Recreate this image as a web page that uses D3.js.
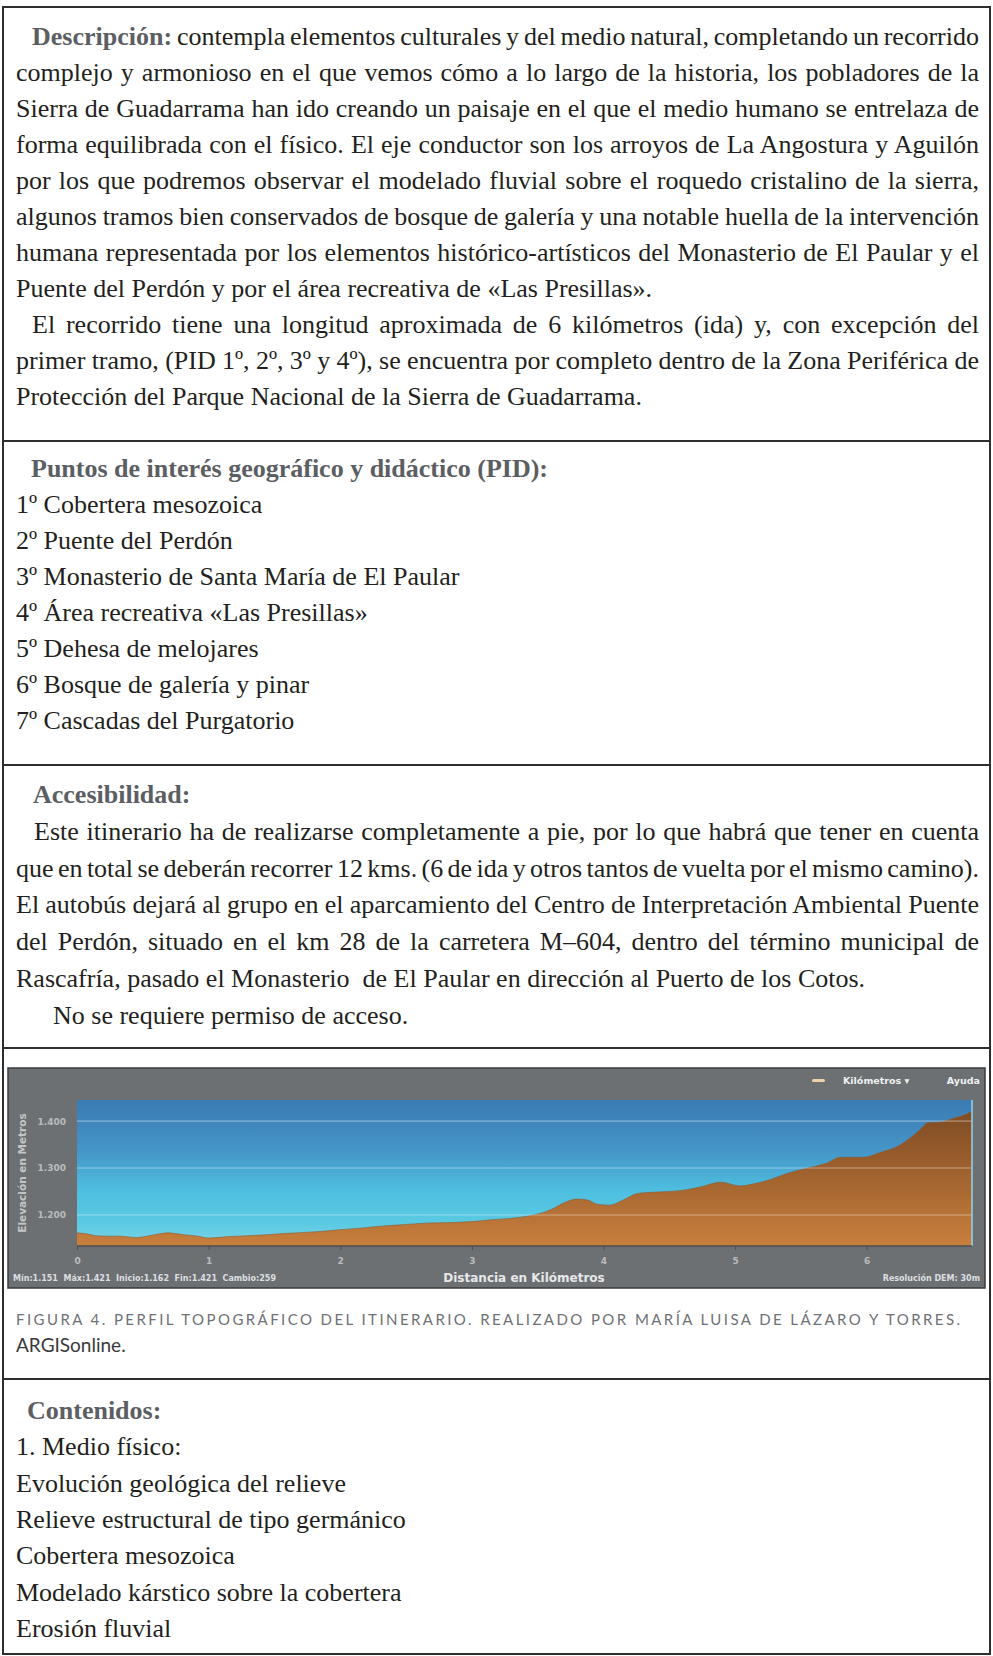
<!DOCTYPE html>
<html><head><meta charset="utf-8">
<script src="https://cdn.jsdelivr.net/npm/d3@7"></script>
<style>body{margin:0;background:#fff}svg{display:block}</style>
</head><body>
<script>
// ---------- DATA ----------
const distKm = [0, 0.07, 0.14, 0.22, 0.33, 0.45, 0.57, 0.69, 0.81, 0.92, 1.0, 1.15, 1.3, 1.44, 1.6, 1.73, 1.85, 1.97, 2.15, 2.3, 2.5, 2.68, 2.85, 3.0, 3.15, 3.3, 3.45, 3.54, 3.62, 3.7, 3.8, 3.88, 3.95, 4.05, 4.15, 4.26, 4.41, 4.61, 4.74, 4.89, 5.04, 5.15, 5.25, 5.4, 5.55, 5.7, 5.8, 5.98, 6.11, 6.24, 6.33, 6.41, 6.46, 6.56, 6.66, 6.74, 6.8];
const elevM  = [1162, 1160, 1156, 1155, 1155, 1152, 1157, 1162, 1158, 1155, 1151, 1154, 1156, 1158, 1161, 1163, 1165, 1168, 1172, 1176, 1180, 1183, 1184, 1186, 1190, 1193, 1199, 1205, 1214, 1226, 1234, 1232, 1223, 1221, 1232, 1246, 1249, 1253, 1260, 1270, 1262, 1267, 1274, 1289, 1300, 1311, 1323, 1323, 1334, 1347, 1364, 1383, 1396, 1398, 1406, 1413, 1421];
const xTickValues = [0, 1, 2, 3, 4, 5, 6];
const yTickValues = [1200, 1300, 1400];

const sec1Lines = [
  [["Descripción: ", true], ["contempla elementos culturales y del medio natural, completando un recorrido", false]],
  [["complejo y armonioso en el que vemos cómo a lo largo de la historia, los pobladores de la", false]],
  [["Sierra de Guadarrama han ido creando un paisaje en el que el medio humano se entrelaza de", false]],
  [["forma equilibrada con el físico. El eje conductor son los arroyos de La Angostura y Aguilón", false]],
  [["por los que podremos observar el modelado fluvial sobre el roquedo cristalino de la sierra,", false]],
  [["algunos tramos bien conservados de bosque de galería y una notable huella de la intervención", false]],
  [["humana representada por los elementos histórico-artísticos del Monasterio de El Paular y el", false]],
  [["Puente del Perdón y por el área recreativa de «Las Presillas».", false]],
  [["El recorrido tiene una longitud aproximada de 6 kilómetros (ida) y, con excepción del", false]],
  [["primer tramo, (PID 1º, 2º, 3º y 4º), se encuentra por completo dentro de la Zona Periférica de", false]],
  [["Protección del Parque Nacional de la Sierra de Guadarrama.", false]]
];
const sec1Indent = [32,16,16,16,16,16,16,16,32,16,16];
const sec1Justify = [1,1,1,1,1,1,1,0,1,1,0];

const sec2Heading = "Puntos de interés geográfico y didáctico (PID):";
const sec2Items = ["1º Cobertera mesozoica","2º Puente del Perdón","3º Monasterio de Santa María de El Paular","4º Área recreativa «Las Presillas»","5º Dehesa de melojares","6º Bosque de galería y pinar","7º Cascadas del Purgatorio"];

const sec3Heading = "Accesibilidad:";
const sec3Lines = [
  "Este itinerario ha de realizarse completamente a pie, por lo que habrá que tener en cuenta",
  "que en total se deberán recorrer 12 kms. (6 de ida y otros tantos de vuelta por el mismo camino).",
  "El autobús dejará al grupo en el aparcamiento del Centro de Interpretación Ambiental Puente",
  "del Perdón, situado en el km 28 de la carretera M–604, dentro del término municipal de",
  "Rascafría, pasado el Monasterio  de El Paular en dirección al Puerto de los Cotos.",
  "No se requiere permiso de acceso."
];
const sec3Indent = [34,16,16,16,16,53];
const sec3Justify = [1,1,1,1,0,0];

const captionLine1 = "FIGURA 4. PERFIL TOPOGRÁFICO DEL ITINERARIO. REALIZADO POR MARÍA LUISA DE LÁZARO Y TORRES.";
const captionLine2 = "ARGISonline.";

const sec5Heading = "Contenidos:";
const sec5Items = ["1. Medio físico:","Evolución geológica del relieve","Relieve estructural de tipo germánico","Cobertera mesozoica","Modelado kárstico sobre la cobertera","Erosión fluvial"];

// ---------- PAGE ----------
const W = 993, H = 1656;
const svg = d3.select("body").append("svg").attr("width", W).attr("height", H);
const SERIF = "'Liberation Serif', 'DejaVu Serif', serif";
const FS = 26, L = 36, RIGHT = 979;
const BODY = "#231f20", HEAD = "#5b5e62";

function textLine(yb, xIndent, parts, justify, color) {
  const t = svg.append("text").attr("x", xIndent).attr("y", yb)
    .attr("font-family", SERIF).attr("font-size", FS).attr("fill", color || BODY)
    .style("white-space", "pre");
  parts.forEach(([s, b]) => {
    t.append("tspan").text(s).attr("font-weight", b ? "bold" : null).attr("fill", b ? HEAD : null);
  });
  if (justify) {
    const nat = t.node().getComputedTextLength();
    const full = parts.map(p => p[0]).join("");
    const spaces = (full.trim().match(/ /g) || []).length;
    const ws = (RIGHT - xIndent - nat) / spaces;
    t.attr("word-spacing", ws);
  }
  return t;
}

// frame and dividers
const frame = {x0: 3, x1: 990, y0: 7, y1: 1654};
svg.append("rect").attr("x", frame.x0).attr("y", frame.y0).attr("width", frame.x1 - frame.x0)
  .attr("height", frame.y1 - frame.y0).attr("fill", "none").attr("stroke", "#2e2e2e").attr("stroke-width", 2);
[441, 765, 1048, 1379].forEach(yy => svg.append("line").attr("x1", frame.x0).attr("x2", frame.x1)
  .attr("y1", yy).attr("y2", yy).attr("stroke", "#2e2e2e").attr("stroke-width", 2));

// section 1
sec1Lines.forEach((parts, i) => textLine(45 + i * L, sec1Indent[i], parts, sec1Justify[i]));
// section 2
textLine(477, 31, [[sec2Heading, true]], 0);
sec2Items.forEach((s, i) => textLine(477 + (i + 1) * L, 16, [[s, false]], 0));
// section 3
textLine(803, 33, [[sec3Heading, true]], 0);
sec3Lines.forEach((s, i) => textLine(803 + (i + 1) * 36.8, sec3Indent[i], [[s, false]], sec3Justify[i]));
// caption
svg.append("text").attr("x", 16).attr("y", 1325).text(captionLine1)
  .attr("font-family", "Lato, 'Open Sans', sans-serif").attr("font-size", 15).attr("fill", "#6e7176")
  .attr("textLength", 944).attr("lengthAdjust", "spacing");
svg.append("text").attr("x", 16).attr("y", 1352).text(captionLine2)
  .attr("font-family", "Lato, 'Open Sans', sans-serif").attr("font-size", 19).attr("fill", "#3a3a3a");
// section 5
textLine(1419, 27, [[sec5Heading, true]], 0);
sec5Items.forEach((s, i) => textLine(1419 + (i + 1) * 36.3, 16, [[s, false]], 0));

// ---------- CHART ----------
const box = {x0: 8, x1: 985, y0: 1068, y1: 1288};
const plot = {x0: 77, x1: 972, y0: 1100, y1: 1246};
const g = svg.append("g");
g.append("rect").attr("x", box.x0).attr("y", box.y0).attr("width", box.x1 - box.x0).attr("height", box.y1 - box.y0)
  .attr("fill", "#6d7073").attr("stroke", "#3a3b3c").attr("stroke-width", 1.5);

const x = d3.scaleLinear().domain([0, 6.8]).range([plot.x0, plot.x1]);
const y = d3.scaleLinear().domain([1134, 1445]).range([plot.y1, plot.y0]);

const defs = svg.append("defs");
const sky = defs.append("linearGradient").attr("id", "sky").attr("gradientUnits", "userSpaceOnUse")
  .attr("x1", 0).attr("x2", 0).attr("y1", plot.y0).attr("y2", plot.y1);
[[0, "#3a7ab3"], [0.35, "#4596c8"], [0.62, "#4ebfe0"], [0.85, "#5bcae3"], [1, "#7fd4e7"]]
  .forEach(([o, c]) => sky.append("stop").attr("offset", o).attr("stop-color", c));
const ground = defs.append("linearGradient").attr("id", "ground").attr("gradientUnits", "userSpaceOnUse")
  .attr("x1", 0).attr("x2", 0).attr("y1", plot.y0).attr("y2", plot.y1);
[[0, "#7a4822"], [0.45, "#9c5f2d"], [1, "#c97f3d"]]
  .forEach(([o, c]) => ground.append("stop").attr("offset", o).attr("stop-color", c));

g.append("rect").attr("x", plot.x0).attr("y", plot.y0).attr("width", plot.x1 - plot.x0)
  .attr("height", plot.y1 - plot.y0).attr("fill", "url(#sky)");

const pts = distKm.map((k, i) => ({k, e: elevM[i]}));
const area = d3.area().x(d => x(d.k)).y0(y(y.domain()[0])).y1(d => y(d.e)).curve(d3.curveMonotoneX);
g.append("path").datum(pts).attr("d", area).attr("fill", "url(#ground)");
g.append("path").datum(pts).attr("d", d3.line().x(d => x(d.k)).y(d => y(d.e)).curve(d3.curveMonotoneX))
  .attr("fill", "none").attr("stroke", "#8d5a2e").attr("stroke-width", 1).attr("opacity", 0.6);

// gridlines
g.selectAll(".grid").data(yTickValues).join("line")
  .attr("x1", plot.x0).attr("x2", plot.x1).attr("y1", d => y(d)).attr("y2", d => y(d))
  .attr("stroke", "#ffffff").attr("stroke-opacity", 0.28).attr("stroke-width", 1.6);
// right edge highlight
g.append("line").attr("x1", plot.x1).attr("x2", plot.x1).attr("y1", plot.y0).attr("y2", plot.y1)
  .attr("stroke", "#8fd6ec").attr("stroke-width", 1.5);

const esLocale = d3.formatLocale({decimal: ",", thousands: ".", grouping: [3], currency: ["", " €"]});
const fmt = esLocale.format(",d");
const CF = "'DejaVu Sans', Verdana, sans-serif";

// y axis
const yAxis = g.append("g").attr("transform", `translate(${plot.x0 - 8},0)`)
  .call(d3.axisLeft(y).tickValues(yTickValues).tickFormat(fmt).tickSize(0));
yAxis.select(".domain").remove();
yAxis.selectAll("text").attr("font-family", CF).attr("font-size", 9).attr("font-weight", "bold").attr("fill", "#b9bcbf");

// x axis
const xAxis = g.append("g").attr("transform", `translate(0,${plot.y1})`)
  .call(d3.axisBottom(x).tickValues(xTickValues).tickFormat(d3.format("d")).tickSize(4).tickPadding(8));
xAxis.select(".domain").attr("stroke", "#4b4d4f").attr("stroke-width", 1.5).attr("d", `M${plot.x0},0H${plot.x1}`);
xAxis.selectAll(".tick line").attr("stroke", "#4b4d4f");
xAxis.selectAll("text").attr("font-family", CF).attr("font-size", 9).attr("font-weight", "bold").attr("fill", "#b9bcbf");

// axis titles
g.append("text").attr("transform", `translate(26,${(plot.y0 + plot.y1) / 2}) rotate(-90)`)
  .attr("text-anchor", "middle").attr("font-family", CF).attr("font-size", 10.5).attr("font-weight", "bold")
  .attr("fill", "#c3c6c9").text("Elevación en Metros");
g.append("text").attr("x", 524).attr("y", 1282).attr("text-anchor", "middle").attr("font-family", CF)
  .attr("font-size", 12).attr("font-weight", "bold").attr("fill", "#e6e8ea").text("Distancia en Kilómetros");

// stats
const minE = d3.min(elevM), maxE = d3.max(elevM), startE = elevM[0], endE = elevM[elevM.length - 1];
const stats = `Mín:${fmt(minE)}  Máx:${fmt(maxE)}  Inicio:${fmt(startE)}  Fin:${fmt(endE)}  Cambio:${fmt(endE - startE)}`;
g.append("text").attr("x", 13).attr("y", 1281).attr("font-family", CF).attr("font-size", 8)
  .attr("font-weight", "bold").attr("fill", "#dcdfe1").style("white-space", "pre").text(stats);
g.append("text").attr("x", 980).attr("y", 1281).attr("text-anchor", "end").attr("font-family", CF).attr("font-size", 8)
  .attr("font-weight", "bold").attr("fill", "#dcdfe1").text("Resolución DEM: 30m");

// header
g.append("rect").attr("x", 812).attr("y", 1079).attr("width", 13).attr("height", 3).attr("rx", 1.5).attr("fill", "#f0d2a8");
g.append("text").attr("x", 843).attr("y", 1084).attr("font-family", CF).attr("font-size", 9.5).attr("font-weight", "bold")
  .attr("fill", "#eef0f2").text("Kilómetros ▾");
g.append("text").attr("x", 980).attr("y", 1084).attr("text-anchor", "end").attr("font-family", CF).attr("font-size", 9.5)
  .attr("font-weight", "bold").attr("fill", "#eef0f2").text("Ayuda");
</script>
</body></html>
